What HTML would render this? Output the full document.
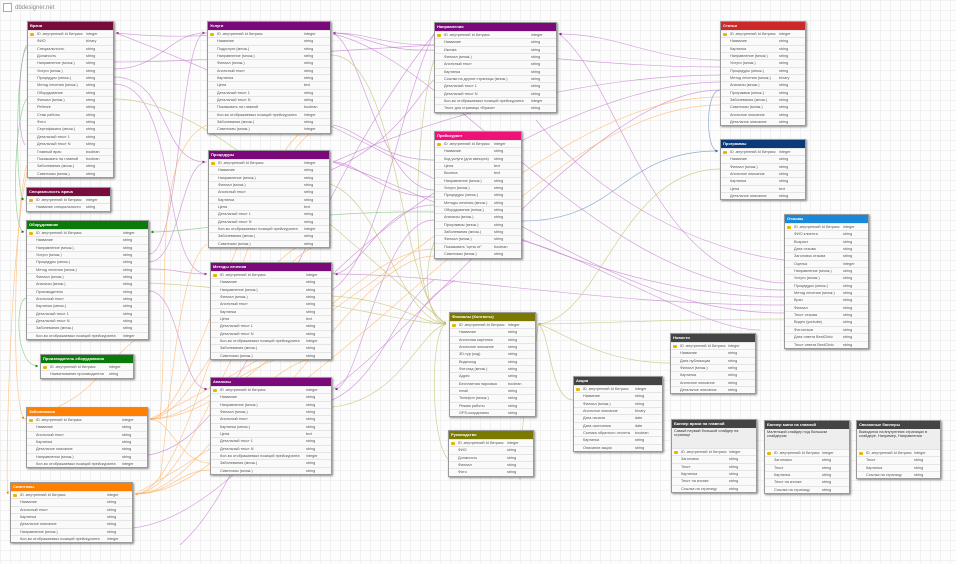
<!DOCTYPE html>
<html><head><meta charset="utf-8"><style>
*{box-sizing:border-box;margin:0;padding:0}
body{width:956px;height:564px;overflow:hidden;position:relative;background-color:#fdfdfd;background-image:linear-gradient(#f1f1f1 1px,transparent 1px),linear-gradient(90deg,#f1f1f1 1px,transparent 1px);background-size:10px 10px;font-family:"Liberation Sans","Noto Sans CJK SC",sans-serif}
svg{position:absolute;left:0;top:0}
.t{position:absolute;background:#fff;border:1px solid #9a9a9a;box-shadow:1px 1px 2px rgba(0,0,0,.45);font-size:3.8px;color:#555;z-index:2}
.h{background:var(--c);color:#fff;font-weight:bold;height:8px;line-height:8px;padding-left:2px;white-space:nowrap;overflow:hidden;font-size:4px}
.r{position:relative;height:7.35px;line-height:7.35px;border-top:1px solid #e4e4e4;padding-left:9px;white-space:nowrap;overflow:hidden;background:#fafafa}
.r i{position:absolute;left:var(--tx);top:0;font-style:normal}
.k::before{content:"";position:absolute;left:2px;top:2px;width:4px;height:3px;background:#e8b800;border-radius:1px}
.d{background:#eee;font-size:3.8px;line-height:4.4px;padding:1px 2px;height:20px;color:#333}
.logo{position:absolute;left:3px;top:3px;font-size:6px;color:#888}
.logo b{display:inline-block;width:9px;height:9px;border:1px solid #aaa;vertical-align:middle;margin-right:3px;background:#fff}
</style></head><body>
<div class="logo"><b></b>dbdesigner.net</div>
<svg width="956" height="564" viewBox="0 0 956 564" fill="none" stroke-width="0.7">
<defs>
<marker id="ap" markerWidth="4" markerHeight="4" refX="3.5" refY="2" orient="auto"><path d="M0,0L4,2L0,4z" fill="#7a0a7a"/></marker>
<marker id="ao" markerWidth="4" markerHeight="4" refX="3.5" refY="2" orient="auto"><path d="M0,0L4,2L0,4z" fill="#ff7f00"/></marker>
<marker id="ag" markerWidth="4" markerHeight="4" refX="3.5" refY="2" orient="auto"><path d="M0,0L4,2L0,4z" fill="#0a7a0a"/></marker>
<marker id="ay" markerWidth="4" markerHeight="4" refX="3.5" refY="2" orient="auto"><path d="M0,0L4,2L0,4z" fill="#7a7a00"/></marker>
<marker id="ab" markerWidth="4" markerHeight="4" refX="3.5" refY="2" orient="auto"><path d="M0,0L4,2L0,4z" fill="#0a3a7a"/></marker>
</defs>
<g stroke="#c070cc" stroke-opacity="0.65">
<path d="M114,69 C160,69 170,33 205,33" marker-end="url(#ap)"/>
<path d="M114,62 C200,62 260,55 434,45"/>
<path d="M114,77 C170,77 160,162 205,162" marker-end="url(#ap)"/>
<path d="M114,84 C180,84 160,274 207,274" marker-end="url(#ap)"/>
<path d="M205,33 C250,33 190,40 116,33" marker-end="url(#ap)"/>
<path d="M434,45 C380,45 370,33 333,33" marker-end="url(#ap)"/>
<path d="M720,60 C650,60 620,34 559,34" marker-end="url(#ap)"/>
<path d="M720,67 C600,67 500,50 420,50 C380,50 360,33 333,33"/>
<path d="M720,75 C600,75 450,110 333,162"/>
<path d="M720,82 C600,82 430,180 333,274"/>
<path d="M720,90 C600,90 450,300 333,389"/>
<path d="M784,283 C650,280 620,80 559,34"/>
<path d="M784,290 C600,290 450,60 333,34"/>
<path d="M784,297 C600,297 450,200 333,162"/>
<path d="M784,305 C600,305 450,274 335,274" marker-end="url(#ap)"/>
<path d="M784,313 C600,313 500,180 116,33"/>
<path d="M434,190 C380,190 360,40 333,34"/>
<path d="M434,197 C380,197 360,162 333,162"/>
<path d="M434,205 C380,205 360,274 333,274"/>
<path d="M434,220 C380,220 360,389 335,389" marker-end="url(#ap)"/>
<path d="M434,160 C380,160 360,130 333,125"/>
<path d="M149,254 C180,254 180,33 205,33"/>
<path d="M149,262 C180,262 180,162 207,162"/>
<path d="M149,269 C180,269 180,274 207,274"/>
<path d="M149,291 C180,291 180,389 207,389" marker-end="url(#ap)"/>
<path d="M148,455 C250,440 300,200 434,34"/>
<path d="M133,528 C200,520 260,450 330,380"/>
<path d="M331,170 C400,140 420,90 434,80"/>
<path d="M332,290 C380,260 400,100 434,34"/>
<path d="M332,400 C380,380 400,300 434,280"/>
<path d="M536,120 C600,200 700,250 784,260"/>
<path d="M520,240 C600,260 700,330 760,330"/>
<path d="M180,545 C230,500 250,420 280,380"/>
<path d="M400,350 C420,300 440,290 455,280"/>
<path d="M25,145 C15,130 20,50 27,45"/>
</g>
<g stroke="#ffb060" stroke-opacity="0.7">
<path d="M331,118 C250,118 200,419 150,419" marker-end="url(#ao)"/>
<path d="M331,125 C250,125 200,494 135,494" marker-end="url(#ao)"/>
<path d="M331,236 C250,236 200,419 150,419"/>
<path d="M331,243 C250,243 200,494 135,494"/>
<path d="M332,348 C250,348 200,419 150,419"/>
<path d="M332,355 C250,355 200,494 135,494"/>
<path d="M210,463 C180,463 170,419 150,419"/>
<path d="M210,470 C180,470 170,494 135,494"/>
<path d="M720,97 C550,97 400,300 150,419"/>
<path d="M720,105 C550,105 400,350 135,494"/>
<path d="M434,249 C350,249 250,419 150,419"/>
<path d="M434,256 C350,256 250,494 135,494"/>
<path d="M27,165 C15,200 10,400 24,419" marker-end="url(#ao)"/>
<path d="M27,172 C10,250 5,480 8,494" marker-end="url(#ao)"/>
<path d="M149,330 C100,360 100,400 24,419"/>
<path d="M207,125 C150,150 170,300 160,420"/>
<path d="M207,244 C180,260 170,400 160,480"/>
</g>
<g stroke="#70c070" stroke-opacity="0.7">
<path d="M27,99 C15,110 10,230 24,232" marker-end="url(#ag)"/>
<path d="M434,212 C300,210 200,232 151,232" marker-end="url(#ag)"/>
<path d="M26,298 C15,300 15,366 38,366" marker-end="url(#ag)"/>
<path d="M27,47 C15,60 15,199 24,199" marker-end="url(#ag)"/>
</g>
<g stroke="#c8c880" stroke-opacity="0.85">
<path d="M114,99 C200,99 300,200 446,324" marker-end="url(#ay)"/>
<path d="M331,55 C400,55 400,300 446,324"/>
<path d="M330,184 C380,200 400,320 446,324"/>
<path d="M332,296 C400,300 420,324 446,324"/>
<path d="M332,407 C400,400 420,330 446,324"/>
<path d="M149,283 C300,290 400,324 446,324"/>
<path d="M434,242 C420,280 430,324 446,324"/>
<path d="M448,459 C430,440 430,330 446,324"/>
<path d="M434,60 C420,100 400,300 446,324"/>
<path d="M784,319 C650,319 600,324 538,324" marker-end="url(#ay)"/>
<path d="M720,169 C620,170 600,320 538,324"/>
<path d="M670,363 C600,363 560,330 538,324"/>
<path d="M573,400 C550,400 550,330 538,324"/>
<path d="M520,480 C520,400 540,330 538,324"/>
</g>
<g stroke="#7c9ccc" stroke-opacity="0.85">
<path d="M720,90 C705,90 705,151 718,151" marker-end="url(#ab)"/>
<path d="M522,221 C620,221 620,151 718,151"/>
</g>
</svg>

<div class="t" style="left:27px;top:21px;width:87px;--c:#760d3d;--tx:58px"><div class="h">Врачи</div>
<div class="r k">ID -внутренний Id битрикс<i>integer</i></div><div class="r">ФИО<i>binary</i></div><div class="r">Специальность<i>string</i></div><div class="r">Должность<i>string</i></div><div class="r">Направление (множ.)<i>string</i></div><div class="r">Услуги (множ.)<i>string</i></div><div class="r">Процедуры (множ.)<i>string</i></div><div class="r">Метод лечения (множ.)<i>string</i></div><div class="r">Оборудование<i>string</i></div><div class="r">Филиал (множ.)<i>string</i></div><div class="r">Рейтинг<i>string</i></div><div class="r">Стаж работы<i>string</i></div><div class="r">Фото<i>string</i></div><div class="r">Сертификаты (множ.)<i>string</i></div><div class="r">Детальный текст 1<i>string</i></div><div class="r">Детальный текст N<i>string</i></div><div class="r">Главный врач<i>boolean</i></div><div class="r">Показывать на главной<i>boolean</i></div><div class="r">Заболевания (множ.)<i>string</i></div><div class="r">Симптомы (множ.)<i>string</i></div></div>

<div class="t" style="left:26px;top:187px;width:85px;--c:#760d3d;--tx:59px"><div class="h">Специальность врача</div>
<div class="r k">ID -внутренний Id битрикс<i>integer</i></div><div class="r">Название специальности<i>string</i></div></div>

<div class="t" style="left:26px;top:220px;width:123px;--c:#0a7a0a;--tx:96px"><div class="h">Оборудование</div>
<div class="r k">ID -внутренний Id битрикс<i>integer</i></div><div class="r">Название<i>string</i></div><div class="r">Направление (множ.)<i>string</i></div><div class="r">Услуги (множ.)<i>string</i></div><div class="r">Процедуры (множ.)<i>string</i></div><div class="r">Метод лечения (множ.)<i>string</i></div><div class="r">Филиал (множ.)<i>string</i></div><div class="r">Анализы (множ.)<i>string</i></div><div class="r">Производитель<i>string</i></div><div class="r">Анонсный текст<i>string</i></div><div class="r">Картинки (множ.)<i>string</i></div><div class="r">Детальный текст 1<i>string</i></div><div class="r">Детальный текст N<i>string</i></div><div class="r">Заболевания (множ.)<i>string</i></div><div class="r">Кол-во отображаемых позиций прейскуранта<i>integer</i></div></div>

<div class="t" style="left:40px;top:354px;width:94px;--c:#0a7a0a;--tx:68px"><div class="h">Производитель оборудования</div>
<div class="r k">ID -внутренний Id битрикс<i>integer</i></div><div class="r">Наименование производителя<i>string</i></div></div>

<div class="t" style="left:26px;top:407px;width:122px;--c:#ff7f00;--tx:95px"><div class="h">Заболевания</div>
<div class="r k">ID -внутренний Id битрикс<i>integer</i></div><div class="r">Название<i>string</i></div><div class="r">Анонсный текст<i>string</i></div><div class="r">Картинка<i>string</i></div><div class="r">Детальное описание<i>string</i></div><div class="r">Направления (множ.)<i>string</i></div><div class="r">Кол-во отображаемых позиций прейскуранта<i>integer</i></div></div>

<div class="t" style="left:10px;top:482px;width:123px;--c:#ff7f00;--tx:96px"><div class="h">Симптомы</div>
<div class="r k">ID -внутренний Id битрикс<i>integer</i></div><div class="r">Название<i>string</i></div><div class="r">Анонсный текст<i>string</i></div><div class="r">Картинка<i>string</i></div><div class="r">Детальное описание<i>string</i></div><div class="r">Направление (множ.)<i>string</i></div><div class="r">Кол-во отображаемых позиций прейскуранта<i>integer</i></div></div>

<div class="t" style="left:207px;top:21px;width:124px;--c:#7a0a7a;--tx:96px"><div class="h">Услуги</div>
<div class="r k">ID -внутренний Id битрикс<i>integer</i></div><div class="r">Название<i>string</i></div><div class="r">Подуслуги (множ.)<i>string</i></div><div class="r">Направление (множ.)<i>string</i></div><div class="r">Филиал (множ.)<i>string</i></div><div class="r">Анонсный текст<i>string</i></div><div class="r">Картинка<i>string</i></div><div class="r">Цена<i>text</i></div><div class="r">Детальный текст 1<i>string</i></div><div class="r">Детальный текст N<i>string</i></div><div class="r">Показывать на главной<i>boolean</i></div><div class="r">Кол-во отображаемых позиций прейскуранта<i>integer</i></div><div class="r">Заболевания (множ.)<i>string</i></div><div class="r">Симптомы (множ.)<i>integer</i></div></div>

<div class="t" style="left:208px;top:150px;width:122px;--c:#7a0a7a;--tx:95px"><div class="h">Процедуры</div>
<div class="r k">ID -внутренний Id битрикс<i>integer</i></div><div class="r">Название<i>string</i></div><div class="r">Направление (множ.)<i>string</i></div><div class="r">Филиал (множ.)<i>string</i></div><div class="r">Анонсный текст<i>string</i></div><div class="r">Картинка<i>string</i></div><div class="r">Цена<i>text</i></div><div class="r">Детальный текст 1<i>string</i></div><div class="r">Детальный текст N<i>string</i></div><div class="r">Кол-во отображаемых позиций прейскуранта<i>integer</i></div><div class="r">Заболевания (множ.)<i>string</i></div><div class="r">Симптомы (множ.)<i>string</i></div></div>

<div class="t" style="left:210px;top:262px;width:122px;--c:#7a0a7a;--tx:95px"><div class="h">Методы лечения</div>
<div class="r k">ID -внутренний Id битрикс<i>integer</i></div><div class="r">Название<i>string</i></div><div class="r">Направление (множ.)<i>string</i></div><div class="r">Филиал (множ.)<i>string</i></div><div class="r">Анонсный текст<i>string</i></div><div class="r">Картинка<i>string</i></div><div class="r">Цена<i>text</i></div><div class="r">Детальный текст 1<i>string</i></div><div class="r">Детальный текст N<i>string</i></div><div class="r">Кол-во отображаемых позиций прейскуранта<i>integer</i></div><div class="r">Заболевания (множ.)<i>string</i></div><div class="r">Симптомы (множ.)<i>string</i></div></div>

<div class="t" style="left:210px;top:377px;width:122px;--c:#7a0a7a;--tx:95px"><div class="h">Анализы</div>
<div class="r k">ID -внутренний Id битрикс<i>integer</i></div><div class="r">Название<i>string</i></div><div class="r">Направление (множ.)<i>string</i></div><div class="r">Филиал (множ.)<i>string</i></div><div class="r">Анонсный текст<i>string</i></div><div class="r">Картинки (множ.)<i>string</i></div><div class="r">Цена<i>text</i></div><div class="r">Детальный текст 1<i>string</i></div><div class="r">Детальный текст N<i>string</i></div><div class="r">Кол-во отображаемых позиций прейскуранта<i>integer</i></div><div class="r">Заболевания (множ.)<i>string</i></div><div class="r">Симптомы (множ.)<i>string</i></div></div>

<div class="t" style="left:434px;top:22px;width:123px;--c:#7a0a7a;--tx:96px"><div class="h">Направления</div>
<div class="r k">ID -внутренний Id битрикс<i>integer</i></div><div class="r">Название<i>string</i></div><div class="r">Иконка<i>string</i></div><div class="r">Филиал (множ.)<i>string</i></div><div class="r">Анонсный текст<i>string</i></div><div class="r">Картинка<i>string</i></div><div class="r">Ссылки на другие страницы (множ.)<i>string</i></div><div class="r">Детальный текст 1<i>string</i></div><div class="r">Детальный текст N<i>string</i></div><div class="r">Кол-во отображаемых позиций прейскуранта<i>integer</i></div><div class="r">Текст для страницы «Врачи»<i>string</i></div></div>

<div class="t" style="left:434px;top:131px;width:88px;--c:#ee1177;--tx:59px"><div class="h">Прейскурант</div>
<div class="r k">ID -внутренний Id битрикс<i>integer</i></div><div class="r">Название<i>string</i></div><div class="r">Код услуги (для импорта)<i>string</i></div><div class="r">Цена<i>text</i></div><div class="r">Валюта<i>text</i></div><div class="r">Направление (множ.)<i>string</i></div><div class="r">Услуги (множ.)<i>string</i></div><div class="r">Процедуры (множ.)<i>string</i></div><div class="r">Методы лечения (множ.)<i>string</i></div><div class="r">Оборудование (множ.)<i>string</i></div><div class="r">Анализы (множ.)<i>string</i></div><div class="r">Программы (множ.)<i>string</i></div><div class="r">Заболевания (множ.)<i>string</i></div><div class="r">Филиал (множ.)<i>string</i></div><div class="r">Показывать "цена от"<i>boolean</i></div><div class="r">Симптомы (множ.)<i>string</i></div></div>

<div class="t" style="left:449px;top:312px;width:87px;--c:#7a7a00;--tx:58px"><div class="h">Филиалы (Контакты)</div>
<div class="r k">ID -внутренний Id битрикс<i>integer</i></div><div class="r">Название<i>string</i></div><div class="r">Анонсная картинка<i>string</i></div><div class="r">Анонсное описание<i>string</i></div><div class="r">3D-тур (код)<i>string</i></div><div class="r">Видеокод<i>string</i></div><div class="r">Фотогид (множ.)<i>string</i></div><div class="r">Адрес<i>string</i></div><div class="r">Бесплатная парковка<i>boolean</i></div><div class="r">email<i>string</i></div><div class="r">Телефон (множ.)<i>string</i></div><div class="r">Режим работы<i>string</i></div><div class="r">GPS-координаты<i>string</i></div></div>

<div class="t" style="left:448px;top:430px;width:86px;--c:#7a7a00;--tx:58px"><div class="h">Руководство</div>
<div class="r k">ID -внутренний Id битрикс<i>integer</i></div><div class="r">ФИО<i>string</i></div><div class="r">Должность<i>string</i></div><div class="r">Филиал<i>string</i></div><div class="r">Фото<i>string</i></div></div>

<div class="t" style="left:573px;top:376px;width:90px;--c:#444;--tx:61px"><div class="h">Акции</div>
<div class="r k">ID -внутренний Id битрикс<i>integer</i></div><div class="r">Название<i>string</i></div><div class="r">Филиал (множ.)<i>string</i></div><div class="r">Анонсное описание<i>binary</i></div><div class="r">Дата начала<i>date</i></div><div class="r">Дата окончания<i>date</i></div><div class="r">Съемка обратного отсчета<i>boolean</i></div><div class="r">Картинка<i>string</i></div><div class="r">Описание акции<i>string</i></div></div>

<div class="t" style="left:670px;top:333px;width:86px;--c:#444;--tx:57px"><div class="h">Новости</div>
<div class="r k">ID -внутренний Id битрикс<i>integer</i></div><div class="r">Название<i>string</i></div><div class="r">Дата публикации<i>string</i></div><div class="r">Филиал (множ.)<i>string</i></div><div class="r">Картинка<i>string</i></div><div class="r">Анонсное описание<i>string</i></div><div class="r">Детальное описание<i>string</i></div></div>

<div class="t" style="left:720px;top:21px;width:86px;--c:#cc2a2a;--tx:58px"><div class="h">Статьи</div>
<div class="r k">ID -внутренний Id битрикс<i>integer</i></div><div class="r">Название<i>string</i></div><div class="r">Картинка<i>string</i></div><div class="r">Направление (множ.)<i>string</i></div><div class="r">Услуги (множ.)<i>string</i></div><div class="r">Процедуры (множ.)<i>string</i></div><div class="r">Метод лечения (множ.)<i>binary</i></div><div class="r">Анализы (множ.)<i>string</i></div><div class="r">Программа (множ.)<i>string</i></div><div class="r">Заболевания (множ.)<i>string</i></div><div class="r">Симптомы (множ.)<i>string</i></div><div class="r">Анонсное описание<i>string</i></div><div class="r">Детальное описание<i>string</i></div></div>

<div class="t" style="left:720px;top:139px;width:86px;--c:#0a3a7a;--tx:58px"><div class="h">Программы</div>
<div class="r k">ID -внутренний Id битрикс<i>integer</i></div><div class="r">Название<i>string</i></div><div class="r">Филиал (множ.)<i>string</i></div><div class="r">Анонсное описание<i>string</i></div><div class="r">Картинка<i>string</i></div><div class="r">Цена<i>text</i></div><div class="r">Детальное описание<i>string</i></div></div>

<div class="t" style="left:784px;top:214px;width:85px;--c:#1a88d8;--tx:58px"><div class="h">Отзывы</div>
<div class="r k">ID -внутренний Id битрикс<i>integer</i></div><div class="r">ФИО клиента<i>string</i></div><div class="r">Возраст<i>string</i></div><div class="r">Дата отзыва<i>string</i></div><div class="r">Заголовок отзыва<i>string</i></div><div class="r">Оценка<i>integer</i></div><div class="r">Направление (множ.)<i>string</i></div><div class="r">Услуги (множ.)<i>string</i></div><div class="r">Процедуры (множ.)<i>string</i></div><div class="r">Метод лечения (множ.)<i>string</i></div><div class="r">Врач<i>string</i></div><div class="r">Филиал<i>string</i></div><div class="r">Текст отзыва<i>string</i></div><div class="r">Видео (youtube)<i>string</i></div><div class="r">Фотоотзыв<i>string</i></div><div class="r">Дата ответа BestClinic<i>string</i></div><div class="r">Текст ответа BestClinic<i>string</i></div></div>

<div class="t" style="left:671px;top:419px;width:86px;--c:#444;--tx:57px"><div class="h">Баннер врачи на главной</div><div class="d">Самый первый большой слайдер на странице</div>
<div class="r k">ID -внутренний Id битрикс<i>integer</i></div><div class="r">Заголовок<i>string</i></div><div class="r">Текст<i>string</i></div><div class="r">Картинка<i>string</i></div><div class="r">Текст на кнопке<i>string</i></div><div class="r">Ссылка на страницу<i>string</i></div></div>

<div class="t" style="left:764px;top:420px;width:86px;--c:#444;--tx:57px"><div class="h">Баннер мини на главной</div><div class="d">Маленький слайдер под большим слайдером</div>
<div class="r k">ID -внутренний Id битрикс<i>integer</i></div><div class="r">Заголовок<i>string</i></div><div class="r">Текст<i>string</i></div><div class="r">Картинка<i>string</i></div><div class="r">Текст на кнопке<i>string</i></div><div class="r">Ссылка на страницу<i>string</i></div></div>

<div class="t" style="left:856px;top:420px;width:85px;--c:#444;--tx:57px"><div class="h">Связанные баннеры</div><div class="d">Выводятся на внутренних страницах в слайдере. Например, Направления</div>
<div class="r k">ID -внутренний Id битрикс<i>integer</i></div><div class="r">Текст<i>string</i></div><div class="r">Картинка<i>string</i></div><div class="r">Ссылка на страницу<i>string</i></div></div>
</body></html>
